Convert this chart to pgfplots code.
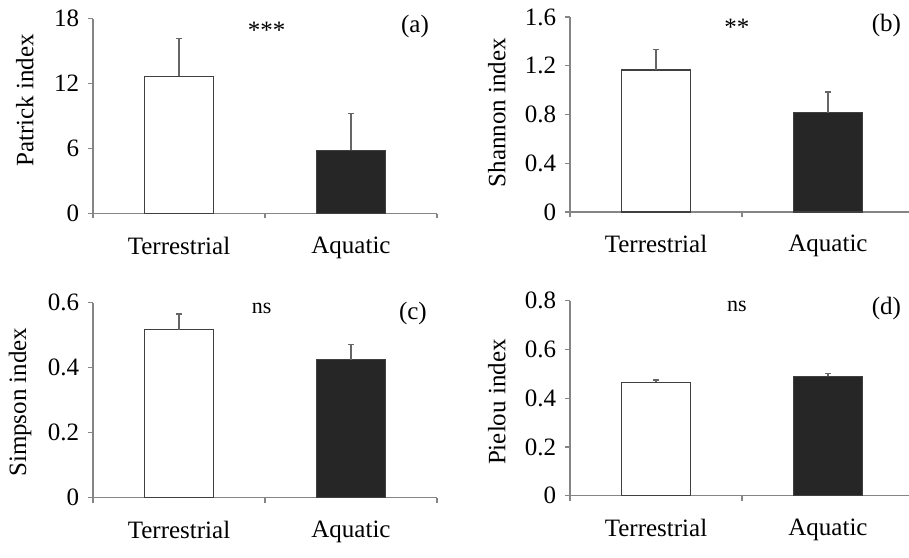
\documentclass[border=0pt]{standalone}
\usepackage{fontspec}
\setmainfont{Liberation Serif}
\usepackage{pgfplots}
\pgfplotsset{compat=1.18}

\definecolor{axgray}{HTML}{858585}
\definecolor{barblack}{HTML}{262626}
\definecolor{edgegray}{HTML}{404040}
\definecolor{errgray}{HTML}{666666}

\pgfplotsset{
  panel/.style={
    scale only axis, width=172pt, height=97.5pt,
    anchor=south west, clip=false,
    axis x line*=bottom, axis y line*=left,
    axis line style={-, axgray, line width=0.6pt},
    every tick/.style={axgray, line width=0.6pt},
    tick align=outside, major tick length=2.4pt,
    xmin=0.5, xmax=2.5, ymin=0,
    xtick={0.5,1.5,2.5}, xticklabels={},
    extra x ticks={1,2}, extra x tick labels={Terrestrial,Aquatic},
    extra x tick style={major tick length=0pt, xticklabel style={yshift=-8pt}},
    font=\fontsize{12.5}{15}\selectfont,
    ticklabel style={font=\fontsize{12.5}{15}\selectfont},
    /pgf/number format/assume math mode=true,
    yticklabel style={/pgf/number format/fixed, xshift=-1pt},
    ybar, bar width=34.5pt,
    every axis plot/.append style={bar shift=0pt},
    error bars/y dir=plus, error bars/y explicit,
    error bars/error bar style={errgray, line width=0.6pt},
    error bars/error mark options={errgray, rotate=90, mark size=1.3pt, line width=0.6pt},
  },
  tbar/.style={fill=white, draw=edgegray, line width=0.6pt},
  abar/.style={fill=barblack, draw=edgegray, line width=0.6pt},
}

\begin{document}
\begin{tikzpicture}

% (a) Patrick
\begin{axis}[panel, at={(46.5pt,171.65pt)},
  ymax=18, ytick={0,6,12,18},
  ylabel={Patrick index},
  ylabel style={at={(axis description cs:-0.198,0.58)}, anchor=center}]
\addplot[tbar] coordinates {(1,12.7) +- (0,3.5)};
\addplot[abar] coordinates {(2,5.85) +- (0,3.4)};
\node at (axis description cs:0.505,0.94) {***};
\node at (axis description cs:0.936,0.959) {(a)};
\end{axis}

% (b) Shannon
\begin{axis}[panel, at={(285pt,172.5pt)},
  ymax=1.6, ytick={0,0.4,0.8,1.2,1.6},
  ylabel={Shannon index},
  ylabel style={at={(axis description cs:-0.213,0.51)}, anchor=center}]
\addplot[tbar] coordinates {(1,1.165) +- (0,0.17)};
\addplot[abar] coordinates {(2,0.815) +- (0,0.17)};
\node at (axis description cs:0.485,0.946) {**};
\node at (axis description cs:0.92,0.957) {(b)};
\end{axis}

% (c) Simpson
\begin{axis}[panel, at={(46.5pt,29.65pt)},
  ymax=0.6, ytick={0,0.2,0.4,0.6},
  ylabel={Simpson index},
  ylabel style={at={(axis description cs:-0.212,0.49)}, anchor=center}]
\addplot[tbar] coordinates {(1,0.517) +- (0,0.048)};
\addplot[abar] coordinates {(2,0.424) +- (0,0.048)};
\node[font=\fontsize{11}{13}\selectfont] at (axis description cs:0.49,0.971) {ns};
\node at (axis description cs:0.93,0.946) {(c)};
\end{axis}

% (d) Pielou
\begin{axis}[panel, at={(285pt,30.65pt)},
  ymax=0.8, ytick={0,0.2,0.4,0.6,0.8},
  ylabel={Pielou index},
  ylabel style={at={(axis description cs:-0.213,0.48)}, anchor=center}]
\addplot[tbar] coordinates {(1,0.465) +- (0,0.010)};
\addplot[abar] coordinates {(2,0.490) +- (0,0.010)};
\node[font=\fontsize{11}{13}\selectfont] at (axis description cs:0.485,0.971) {ns};
\node at (axis description cs:0.92,0.962) {(d)};
\end{axis}

\pgfresetboundingbox
\path[use as bounding box] (0,0) rectangle (454.5pt,278.5pt);
\end{tikzpicture}
\end{document}
